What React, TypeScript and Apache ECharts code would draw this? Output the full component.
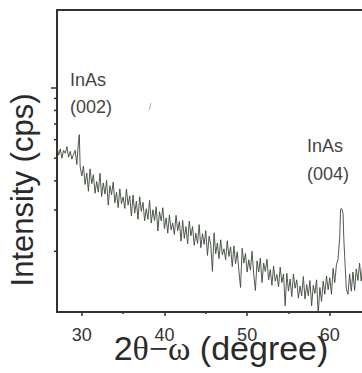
import React, { useEffect, useRef } from "react";
import * as echarts from "echarts";

// 2θ−ω scan (degree, counts per second)
const scan: [number, number][] = [
  [27.0, 560], [27.2, 515], [27.4, 548], [27.6, 500], [27.8, 540], [28.0, 525],
  [28.2, 560], [28.4, 505], [28.6, 535], [28.8, 495], [29.0, 520], [29.2, 540],
  [29.4, 470], [29.6, 590], [29.7, 630], [29.8, 460], [30.0, 420],
  [30.2, 463], [30.4, 386], [30.6, 432], [30.8, 361], [31.0, 450], [31.2, 389],
  [31.4, 425], [31.6, 354], [31.8, 397], [32.0, 358], [32.2, 431], [32.4, 343],
  [32.6, 392], [32.8, 351], [33.0, 402], [33.2, 315], [33.4, 381], [33.6, 349],
  [33.8, 395], [34.0, 322], [34.2, 358], [34.4, 307], [34.6, 370], [34.8, 320],
  [35.0, 341], [35.2, 305], [35.4, 369], [35.6, 315], [35.8, 345], [36.0, 283],
  [36.2, 348], [36.4, 291], [36.6, 327], [36.8, 274], [37.0, 342], [37.2, 296],
  [37.4, 324], [37.6, 270], [37.8, 304], [38.0, 274], [38.2, 330], [38.4, 264],
  [38.6, 301], [38.8, 271], [39.0, 310], [39.2, 244], [39.4, 295], [39.6, 270],
  [39.8, 307], [40.0, 250], [40.2, 278], [40.4, 239], [40.6, 286], [40.8, 247],
  [41.0, 264], [41.2, 236], [41.4, 285], [41.6, 245], [41.8, 268], [42.0, 221],
  [42.2, 271], [42.4, 227], [42.6, 255], [42.8, 215], [43.0, 269], [43.2, 233],
  [43.4, 255], [43.6, 212], [43.8, 239], [44.0, 216], [44.2, 260], [44.4, 207],
  [44.6, 238], [44.8, 214], [45.0, 245], [45.2, 192], [45.4, 232], [45.6, 214],
  [45.8, 164], [46.0, 240], [46.2, 195], [46.4, 217], [46.6, 186], [46.8, 224],
  [47.0, 193], [47.2, 205], [47.4, 184], [47.6, 222], [47.8, 190], [48.0, 209],
  [48.2, 172], [48.4, 211], [48.6, 177], [48.8, 199], [49.0, 166], [49.2, 140],
  [49.4, 206], [49.6, 178], [49.8, 196], [50.0, 163], [50.2, 184], [50.4, 166],
  [50.6, 200], [50.8, 159], [51.0, 136], [51.2, 182], [51.4, 163], [51.6, 187],
  [51.8, 147], [52.0, 178], [52.2, 164], [52.4, 185], [52.6, 151], [52.8, 167],
  [53.0, 143], [53.2, 173], [53.4, 149], [53.6, 159], [53.8, 141], [54.0, 171],
  [54.2, 147], [54.4, 160], [54.6, 117], [54.8, 161], [55.0, 135], [55.2, 152],
  [55.4, 128], [55.6, 160], [55.8, 139], [56.0, 151], [56.2, 126], [56.4, 142],
  [56.6, 129], [56.8, 156], [57.0, 125], [57.2, 144], [57.4, 129], [57.6, 150],
  [57.8, 117], [58.0, 143], [58.2, 132], [58.4, 151], [58.6, 108], [58.8, 140],
  [59.0, 122], [59.2, 149], [59.4, 131], [59.6, 157], [59.8, 137], [60.0, 154],
  [60.2, 131], [60.4, 169], [60.6, 147], [60.8, 175], [61.0, 185], [61.2, 230],
  [61.3, 300], [61.4, 305], [61.5, 300], [61.6, 290], [61.7, 225], [61.8, 190],
  [62.0, 138], [62.2, 131], [62.4, 160], [62.6, 135], [62.8, 163], [63.0, 136],
  [63.2, 168], [63.4, 150], [63.6, 178], [63.8, 149], [64.0, 179], [64.2, 165],
  [64.4, 189], [64.6, 166], [64.8, 190], [65.0, 178],
];

const xMajorTicks = [30, 40, 50, 60];
const xMinorTicks = [35, 45, 55];
const yMajorTicks = [1000];
const yMinorTicks = [200, 300, 400, 500, 600, 700, 800, 900];
const xRange = [27, 64.5];
const yRange = [110, 2150];

const AXIS = "#2d3629";
const FONT = "'Liberation Sans', Arial, sans-serif";

export default function App() {
  const ref = useRef<HTMLDivElement>(null);
  useEffect(() => {
    document.body.style.margin = "0";
    document.body.style.overflow = "hidden";
    const chart = echarts.init(ref.current!, null, { renderer: "svg" });
    chart.setOption({
      animation: false,
      backgroundColor: "#ffffff",
      grid: {
        left: 57,
        top: 10,
        right: -5,
        bottom: 61,
        outerBoundsMode: "none",
        containLabel: false,
        show: false,
      },
      xAxis: [
        {
          type: "value",
          min: xRange[0],
          max: xRange[1],
          position: "bottom",
          axisLine: { show: true, lineStyle: { color: AXIS, width: 2 } },
          axisTick: { show: true, customValues: xMajorTicks, length: 4, lineStyle: { color: AXIS, width: 1.5 } },
          axisLabel: { show: true, customValues: xMajorTicks, fontSize: 18, color: "#333", fontFamily: FONT, margin: 14 },
          splitLine: { show: false },
        },
        {
          type: "value",
          min: xRange[0],
          max: xRange[1],
          position: "bottom",
          axisLine: { show: false },
          axisTick: { show: true, customValues: xMinorTicks, length: 2, lineStyle: { color: AXIS, width: 1.5 } },
          axisLabel: { show: false },
          splitLine: { show: false },
        },
        {
          type: "value",
          min: xRange[0],
          max: xRange[1],
          position: "top",
          axisLine: { show: true, lineStyle: { color: AXIS, width: 2 } },
          axisTick: { show: false },
          axisLabel: { show: false },
          splitLine: { show: false },
        },
      ],
      yAxis: [
        {
          type: "log",
          min: yRange[0],
          max: yRange[1],
          position: "left",
          axisLine: { show: true, lineStyle: { color: AXIS, width: 2 } },
          axisTick: { show: true, customValues: yMajorTicks, length: 6, lineStyle: { color: AXIS, width: 1.5 } },
          axisLabel: { show: false },
          splitLine: { show: false },
        },
      ],
      series: [
        {
          type: "line",
          data: scan,
          xAxisIndex: 0,
          yAxisIndex: 0,
          showSymbol: false,
          symbol: "none",
          lineStyle: { color: "#3d473a", width: 0.9 },
          clip: true,
        },
        {
          type: "custom",
          xAxisIndex: 0,
          yAxisIndex: 0,
          clip: false,
          silent: true,
          data: yMinorTicks.map((v) => [xRange[0], v]),
          renderItem: (params: any, api: any) => {
            const p = api.coord([api.value(0), api.value(1)]);
            return {
              type: "line",
              shape: { x1: p[0] - 3, y1: p[1], x2: p[0], y2: p[1] },
              style: { stroke: AXIS, lineWidth: 1.5 },
            };
          },
        },
      ],
      graphic: [
        { type: "text", x: 70, y: 80, style: { text: "InAs", font: `18px ${FONT}`, fill: "#444", verticalAlign: "middle" } },
        { type: "text", x: 70, y: 107, style: { text: "(002)", font: `18px ${FONT}`, fill: "#444", verticalAlign: "middle" } },
        { type: "text", x: 307, y: 146, style: { text: "InAs", font: `18px ${FONT}`, fill: "#444", verticalAlign: "middle" } },
        { type: "text", x: 307, y: 174, style: { text: "(004)", font: `18px ${FONT}`, fill: "#444", verticalAlign: "middle" } },
        { type: "text", x: 150, y: 107, style: { text: "/", font: `9px ${FONT}`, fill: "#999", align: "center", verticalAlign: "middle" } },
        {
          type: "text",
          x: 22,
          y: 190,
          rotation: Math.PI / 2,
          style: { text: "Intensity (cps)", font: `31px ${FONT}`, fill: "#2a2a2a", align: "center", verticalAlign: "middle" },
        },
        {
          type: "text",
          x: 221,
          y: 348,
          style: {
            text: "{a|2}{g|θ−ω}{a| (degree)}",
            align: "center",
            verticalAlign: "middle",
            rich: {
              a: { fontSize: 34, fontFamily: FONT, fill: "#2a2a2a" },
              g: { fontSize: 34, fontFamily: "'Liberation Serif', serif", fill: "#2a2a2a" },
            },
          },
        },
      ],
    });
    return () => chart.dispose();
  }, []);
  return <div ref={ref} style={{ position: "fixed", left: 0, top: 0, width: 362, height: 373 }} />;
}
